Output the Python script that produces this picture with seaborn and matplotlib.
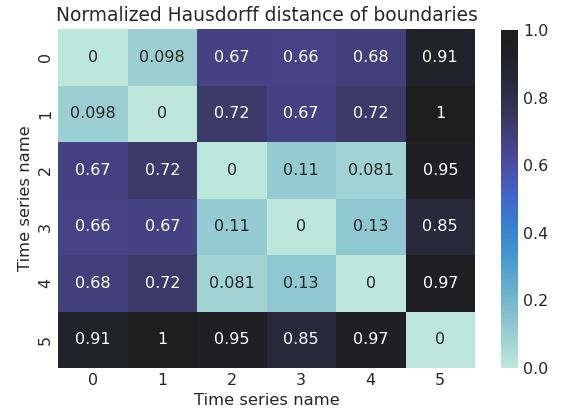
import numpy as np
import pandas as pd
import matplotlib
matplotlib.use("Agg")
import matplotlib.pyplot as plt
import seaborn as sns

names = ["0", "1", "2", "3", "4", "5"]
row0 = [0, 0.098, 0.67, 0.66, 0.68, 0.91]
row1 = [0.098, 0, 0.72, 0.67, 0.72, 1.0]
row2 = [0.67, 0.72, 0, 0.11, 0.081, 0.95]
row3 = [0.66, 0.67, 0.11, 0, 0.13, 0.85]
row4 = [0.68, 0.72, 0.081, 0.13, 0, 0.97]
row5 = [0.91, 1.0, 0.95, 0.85, 0.97, 0]

sns.set_theme(context="notebook", style="darkgrid")
plt.rcParams.update({
    "font.size": 11.5,
    "axes.labelsize": 11.8,
    "xtick.labelsize": 11.4,
    "ytick.labelsize": 11.4,
    "xtick.major.size": 0,
    "ytick.major.size": 0,
    "xtick.major.pad": 3.5,
    "ytick.major.pad": 3.5,
    "axes.labelpad": 4,
})
df = pd.DataFrame([row0, row1, row2, row3, row4, row5], index=names, columns=names)

W, H = 561, 413
fig = plt.figure(figsize=(W / 100, H / 100), dpi=100)
ax = fig.add_axes([58 / W, (H - 368) / H, (475 - 58) / W, (368 - 29) / H])
cax = fig.add_axes([501 / W, (H - 368) / H, 17 / W, 338 / H])
sns.heatmap(df, annot=True, cmap="icefire", center=1, vmin=0, vmax=1, ax=ax, cbar_ax=cax)
ax.set_title("Normalized Hausdorff distance of boundaries", fontsize=13.4)
ax.set_xlabel("Time series name")
ax.set_ylabel("Time series name")
fig.savefig("out.png", dpi=100)
